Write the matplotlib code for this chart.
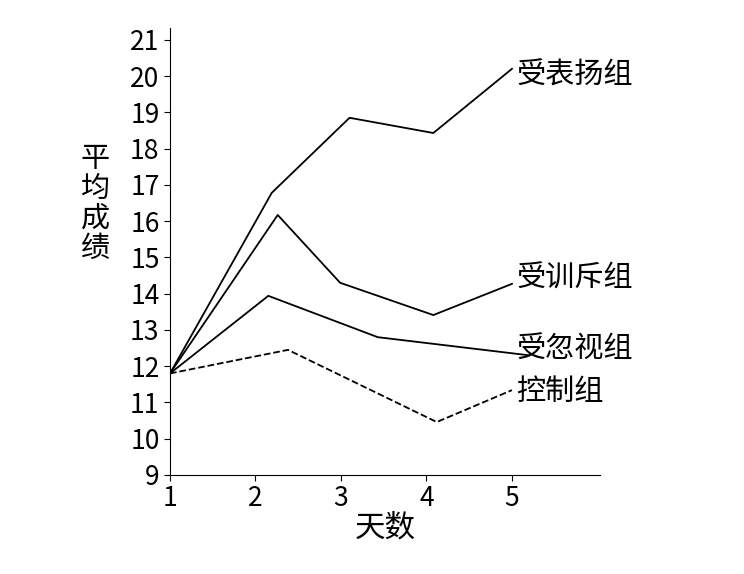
import matplotlib
matplotlib.use("Agg")
import matplotlib.pyplot as plt

plt.rcParams['font.family'] = ['Noto Sans CJK SC', 'DejaVu Sans']

praise_x = [1, 2.19, 3.1, 4.08, 5.0]
praise_y = [11.8, 16.78, 18.85, 18.43, 20.2]
reprove_x = [1, 2.26, 2.99, 4.08, 5.0]
reprove_y = [11.8, 16.17, 14.3, 13.41, 14.27]
ignore_x = [1, 2.15, 3.43, 5.2]
ignore_y = [11.8, 13.94, 12.8, 12.3]
control_x = [1, 2.38, 4.12, 5.0]
control_y = [11.8, 12.45, 10.46, 11.34]
labels = ["受表扬组", "受训斥组", "受忽视组", "控制组"]
label_y = [20.0, 14.4, 12.45, 11.3]

fig = plt.figure(figsize=(7.44, 5.74), dpi=100)
ax = fig.add_axes([0.2285, 0.1725, 0.578, 0.779])
for xs, ys, ls in [(praise_x, praise_y, '-'), (reprove_x, reprove_y, '-'),
                   (ignore_x, ignore_y, '-'), (control_x, control_y, '--')]:
    ax.plot(xs, ys, color='black', lw=1.3, ls=ls)
for lab, yy in zip(labels, label_y):
    ax.text(5.05, yy, lab, fontsize=21, va='center', ha='left')
ax.set_xlim(1, 6.03)
ax.set_ylim(9, 21.33)
ax.set_xticks([1, 2, 3, 4, 5])
ax.set_yticks(range(9, 22))
ax.tick_params(labelsize=19, length=4)
for s in ['top', 'right']:
    ax.spines[s].set_visible(False)
ax.set_xlabel("天数", fontsize=22, labelpad=0)
fig.text(0.128, 0.645, "平\n均\n成\n绩", fontsize=21, ha='center', va='center', linespacing=1.0)
fig.savefig("out.png", dpi=100)
